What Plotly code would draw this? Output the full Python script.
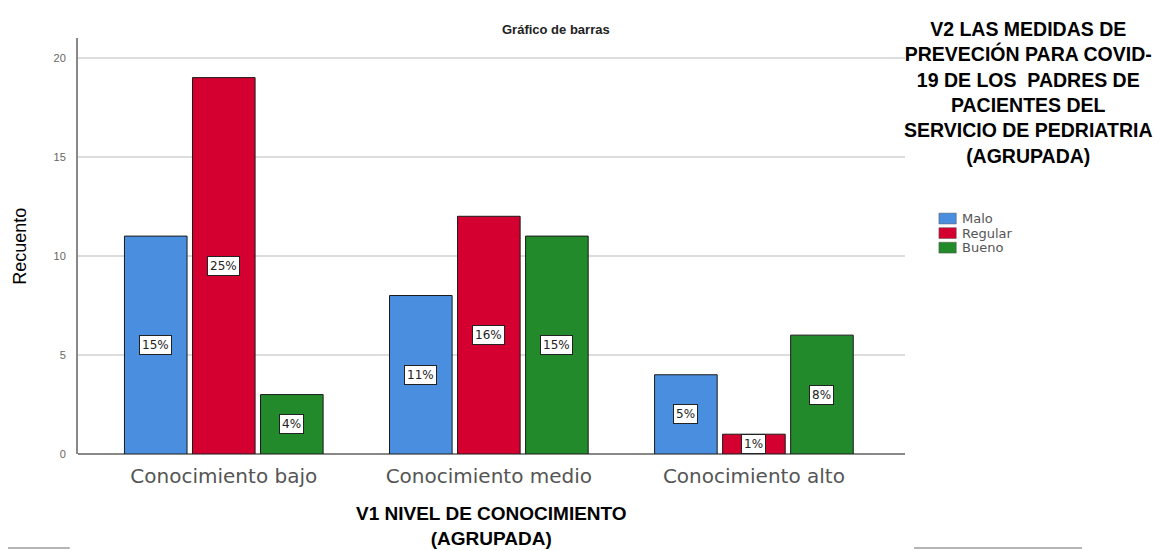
import plotly.graph_objects as go

# data
categories = ['Conocimiento bajo', 'Conocimiento medio', 'Conocimiento alto']
series_names = ['Malo', 'Regular', 'Bueno']
malo = [11, 8, 4]
regular = [19, 12, 1]
bueno = [3, 11, 6]
malo_pct = ['15%', '11%', '5%']
regular_pct = ['25%', '16%', '1%']
bueno_pct = ['4%', '15%', '8%']

colors = ['#4a8fdf', '#d40030', '#228a2b']
BARGAP = 0.23

fig = go.Figure()
all_values = [malo, regular, bueno]
all_pct = [malo_pct, regular_pct, bueno_pct]
for name, vals, col in zip(series_names, all_values, colors):
    fig.add_trace(go.Bar(x=categories, y=vals, name=name, showlegend=False,
                         marker=dict(color=col, line=dict(color='#1a1a1a', width=1))))

# percent labels in little white boxes, at mid height of each bar
slot = (1 - BARGAP) / 3
for k, (vals, pcts) in enumerate(zip(all_values, all_pct)):
    for i, (v, p) in enumerate(zip(vals, pcts)):
        fig.add_annotation(x=i + (k - 1) * slot, y=v / 2, text=p, showarrow=False,
                           font=dict(family='DejaVu Sans', size=12, color='#222222'),
                           bgcolor='white', bordercolor='#222222', borderwidth=1,
                           borderpad=2)

fig.add_annotation(x=0.578, y=1.043, xref='paper', yref='paper', text='<b>Gráfico de barras</b>',
                   showarrow=False, xanchor='center',
                   font=dict(family='Arial', size=13, color='#222222'))

fig.add_annotation(x=1.1486, y=1.052, xref='paper', yref='paper', xanchor='center', yanchor='top',
                   text='<b>V2 LAS MEDIDAS DE<br>PREVECIÓN PARA COVID-<br>19 DE LOS  PADRES DE'
                        '<br>PACIENTES DEL<br>SERVICIO DE PEDRIATRIA<br>(AGRUPADA)</b>',
                   showarrow=False, align='center',
                   font=dict(family='Arial', size=19.5, color='black'))

fig.add_annotation(x=-0.085, y=0.5, xref='paper', yref='paper', text='Recuento', textangle=-90,
                   showarrow=False,
                   font=dict(family='Liberation Sans Narrow, Arial', size=18, color='black'))

fig.add_annotation(x=0.5, y=-0.234, xref='paper', yref='paper', xanchor='center', yanchor='bottom',
                   text='<b>V1 NIVEL DE CONOCIMIENTO<br>(AGRUPADA)</b>', showarrow=False,
                   font=dict(family='Arial', size=19, color='black'))

# hand-made legend (SPSS style, tight rows)
for k, (name, col) in enumerate(zip(series_names, colors)):
    ytop = 0.579 - k * 0.035
    fig.add_shape(type='rect', xref='paper', yref='paper', x0=1.041, x1=1.062,
                  y0=ytop - 0.026, y1=ytop, fillcolor=col, line=dict(color='#555555', width=0.5))
    fig.add_annotation(x=1.067, y=ytop - 0.013, xref='paper', yref='paper', text=name,
                       xanchor='left', showarrow=False,
                       font=dict(family='DejaVu Sans', size=13, color='#555555'))

# scan artefact lines along the bottom edge
fig.add_shape(type='line', xref='paper', yref='paper', x0=-0.095, x1=-0.01, y0=-0.226, y1=-0.226,
              line=dict(color='#b5b5b5', width=2))
fig.add_shape(type='line', xref='paper', yref='paper', x0=1.011, x1=1.214, y0=-0.226, y1=-0.226,
              line=dict(color='#b5b5b5', width=2))

# page body has an 8px margin, so the figure is drawn slightly smaller
fig.update_layout(
    width=1163, height=543,
    margin=dict(l=70, r=266, t=30, b=97),
    paper_bgcolor='white', plot_bgcolor='white',
    barmode='group', bargap=BARGAP, bargroupgap=0.08,
    font=dict(family='Arial'),
    xaxis=dict(range=[-0.55, 2.57], showgrid=False, ticks='', automargin=False,
               tickfont=dict(family='DejaVu Sans', size=20, color='#555555'),
               ticklabelstandoff=8, showline=False, zeroline=False),
    yaxis=dict(range=[0, 21], tickvals=[0, 5, 10, 15, 20], showgrid=True,
               gridcolor='#dddddd', gridwidth=2, automargin=False,
               tickfont=dict(family='Arial', size=11, color='#666666'),
               ticklabelstandoff=8,
               showline=True, linecolor='#888888', linewidth=2, ticks='',
               zeroline=True, zerolinecolor='#888888', zerolinewidth=2),
)

fig.write_html("out.html")
